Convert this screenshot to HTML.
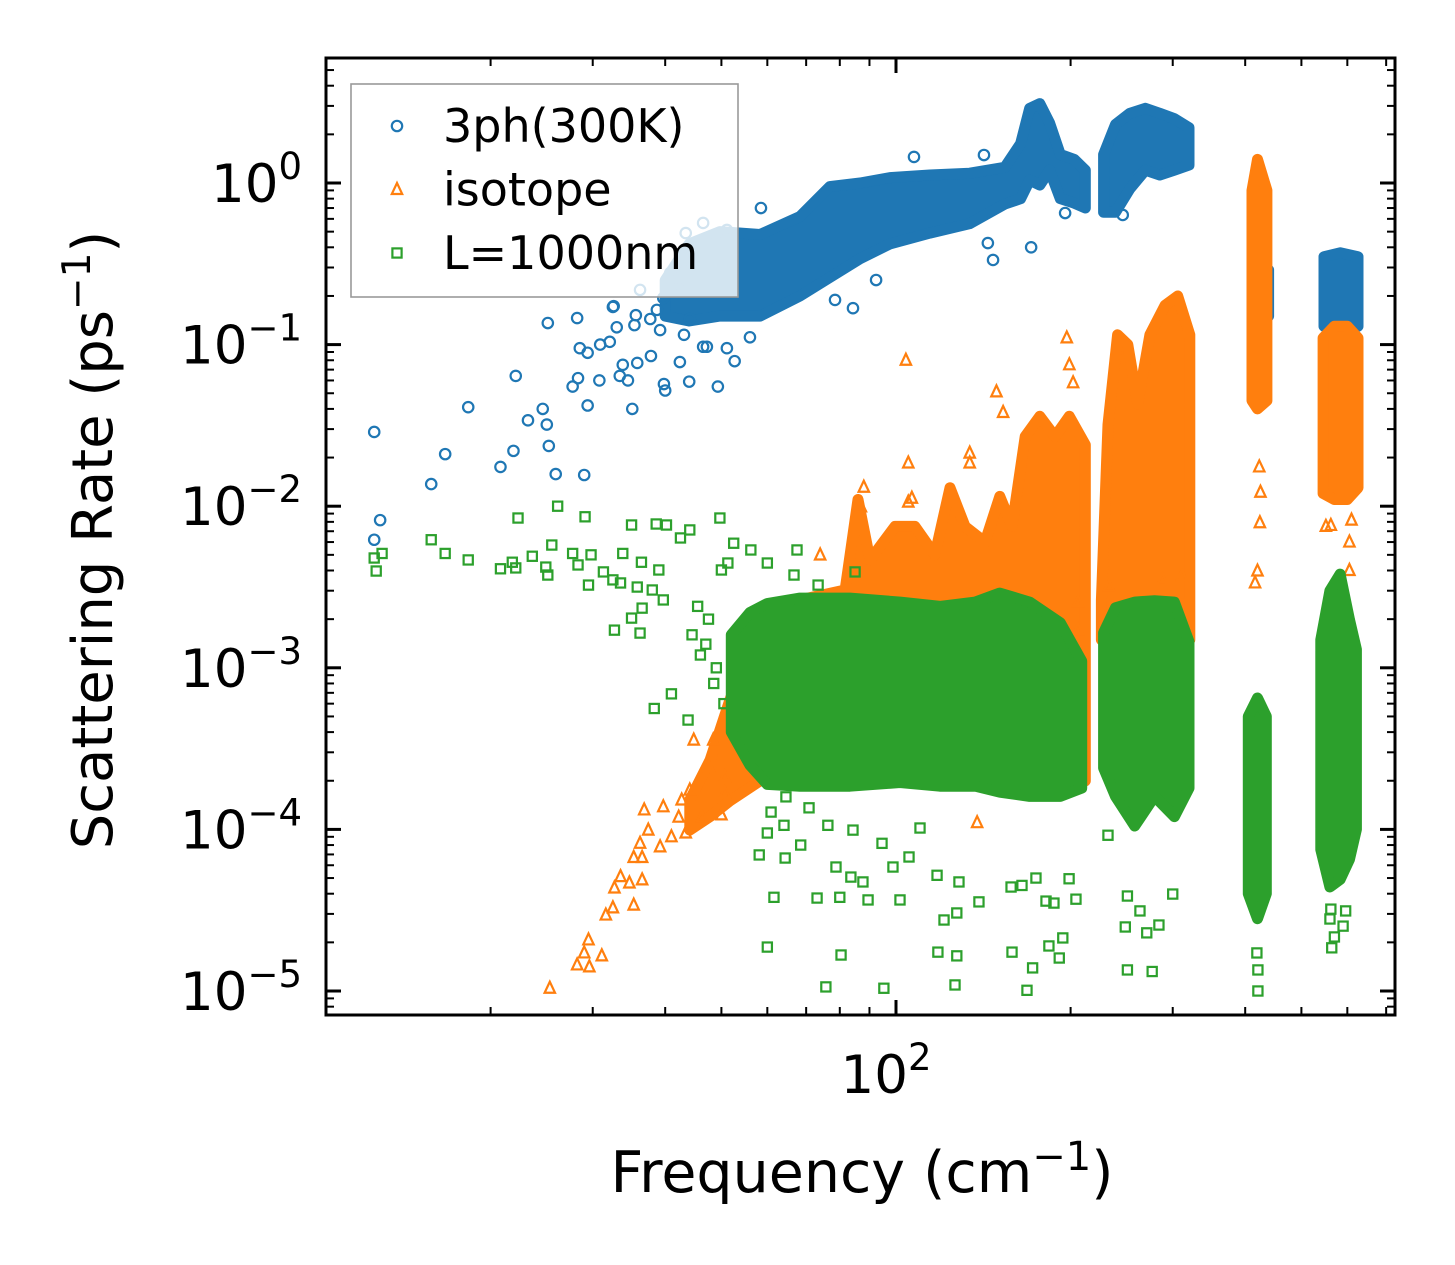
<!DOCTYPE html>
<html><head><meta charset="utf-8"><title>Scattering Rate</title>
<style>html,body{margin:0;padding:0;background:#fff}svg{display:block}text{font-family:"DejaVu Sans","Liberation Sans",sans-serif}</style>
</head><body>
<svg id="chart" width="1455" height="1265" viewBox="0 0 1455 1265" xmlns="http://www.w3.org/2000/svg">
<rect x="0" y="0" width="1455" height="1265" fill="#fff"/>
<g id="bands"></g>
<g id="axes"></g>
<g id="legend"></g>
<text x="862" y="1192" font-size="57" text-anchor="middle">Frequency (cm<tspan dy="-22" font-size="40">−1</tspan><tspan dy="22">)</tspan></text>
<text transform="translate(112,540) rotate(-90)" font-size="56" text-anchor="middle">Scattering Rate (ps<tspan dy="-22" font-size="39">−1</tspan><tspan dy="22">)</tspan></text>
</svg>
<script>
// ---- data: series scatter points [frequency cm^-1, rate ps^-1] ----
const phFreq = [12.6,12.9,12.6,15.8,16.7,18.3,20.8,21.9,22.1,23.2,24.6,25.2,25.9,25.0,29.0,27.7,28.3,28.5,29.4,30.8,30.9,32.1,32.6,33.4,33.8,34.5,35.8,37.8,39.8,35.1,37.7,39.2,35.4,33.0,43.1,44.1,46.5,49.3,52.7,47.2,51.1,56.0,147,171,144,84.3,78.5,92.4,107.4,141.8,58.5,195.7,246,46.5,51.1,43.4,49.0,40.8,36.2,39.7,44.1,42.4,32.5,28.2,25.1,40.0,29.4,42.4,44.0,35.6,38.7];
const phRate = [2.88e-2,8.2e-3,6.2e-3,1.37e-2,2.1e-2,4.1e-2,1.75e-2,2.2e-2,6.4e-2,3.4e-2,4.0e-2,2.36e-2,1.58e-2,3.2e-2,1.56e-2,5.5e-2,6.2e-2,9.5e-2,8.9e-2,6.0e-2,0.100,0.104,0.173,6.4e-2,7.5e-2,6.0e-2,7.7e-2,8.5e-2,5.7e-2,4.0e-2,0.144,0.123,0.132,0.128,0.115,0.144,9.7e-2,5.5e-2,7.9e-2,9.7e-2,9.5e-2,0.111,0.334,0.40,0.425,0.168,0.189,0.251,1.45,1.49,0.70,0.652,0.634,0.566,0.512,0.49,0.43,0.277,0.218,0.194,0.334,0.227,0.171,0.146,0.136,5.2e-2,4.2e-2,7.8e-2,5.9e-2,0.152,0.164];
const isoFreq = [25.3,29.6,28.2,31.1,29.5,29.0,31.6,32.5,35.3,33.5,34.7,36.5,32.7,35.3,36.5,36.2,39.2,36.8,39.7,37.4,41.0,42.2,43.4,42.7,44.1,46.3,50.0,44.8,47.6,50.7,50.7,48.4,52.1,104,197,149,153,199,202,105,134,134,88,106.5,423,425,562,610,424,420,416,551,605,605,311,288,233,233,206,206,138,315,74,87,105];
const isoRate = [1.04e-5,1.41e-5,1.45e-5,1.65e-5,2.07e-5,1.72e-5,2.95e-5,3.27e-5,3.4e-5,5.1e-5,4.66e-5,4.87e-5,4.34e-5,6.7e-5,6.7e-5,8.2e-5,7.8e-5,1.32e-4,1.38e-4,9.9e-5,9.0e-5,1.19e-4,9.5e-5,1.52e-4,1.75e-4,1.19e-4,1.23e-4,3.57e-4,2.43e-4,2.11e-4,1.68e-4,3.57e-4,4.55e-4,8.0e-2,0.11,5.1e-2,3.8e-2,7.5e-2,5.8e-2,1.85e-2,2.13e-2,1.85e-2,1.31e-2,1.12e-2,1.75e-2,1.22e-2,7.6e-3,8.2e-3,7.9e-3,3.97e-3,3.35e-3,7.5e-3,6.0e-3,4.0e-3,3.7e-3,3.5e-3,2.0e-3,3.2e-3,1.71e-3,2.55e-3,1.1e-4,3.4e-4,4.99e-3,9.9e-3,1.06e-2];
const bdFreq = [12.7,12.6,13.0,15.8,16.7,18.3,22.3,26.1,29.1,20.8,22.1,21.8,23.6,24.9,25.1,25.5,27.7,28.3,29.8,29.5,31.3,32.5,33.5,35.0,38.6,40.2,42.5,44.1,49.7,33.8,36.4,39.0,35.8,38.0,39.7,35.0,32.7,36.5,36.2,38.3,41.0,43.8,52.5,56.2,60.0,67.5,66.7,73.4,85.0,50.0,51.3,
 60.0,80.4,75.7,95.3,61.6,73.1,80.0,89.5,101.6,58.1,64.4,68.5,78.8,83.6,87.7,98.8,105.3,60.0,64.1,70.8,76.3,84.3,94.6,110.0,60.9,64.6,118.1,127.3,126.4,158.5,168.2,172,183.5,191.2,193.9,121,127.3,139,181.4,187.2,204.3,117.7,128.4,157.9,164.9,174.3,198.8,250.6,276.5,248.5,270.6,284,300,250.6,263.4,420.7,420.7,419,564,570,590,560,562,596,232,
 44.5,46.0,47.5,48.5,45.5,47.0,49.0,50.5];
const bdRate = [3.97e-3,4.78e-3,5.1e-3,6.2e-3,5.1e-3,4.65e-3,8.45e-3,1.0e-2,8.6e-3,4.1e-3,4.15e-3,4.5e-3,4.9e-3,4.2e-3,3.75e-3,5.75e-3,5.1e-3,4.33e-3,5.0e-3,3.25e-3,3.92e-3,3.5e-3,3.35e-3,7.65e-3,7.76e-3,7.65e-3,6.36e-3,7.13e-3,8.45e-3,5.1e-3,4.5e-3,4.03e-3,3.16e-3,3.03e-3,2.63e-3,2.03e-3,1.71e-3,2.34e-3,1.64e-3,5.6e-4,6.9e-4,4.75e-4,5.9e-3,5.36e-3,4.45e-3,5.36e-3,3.75e-3,3.25e-3,3.92e-3,4.03e-3,4.45e-3,
 1.87e-5,1.67e-5,1.06e-5,1.04e-5,3.8e-5,3.76e-5,3.8e-5,3.66e-5,3.66e-5,6.95e-5,6.65e-5,8.0e-5,5.85e-5,5.07e-5,4.73e-5,5.85e-5,6.75e-5,9.5e-5,1.06e-4,1.36e-4,1.06e-4,9.9e-5,8.2e-5,1.02e-4,1.28e-4,1.59e-4,1.74e-5,1.65e-5,1.09e-5,1.74e-5,1.01e-5,1.39e-5,1.9e-5,1.6e-5,2.13e-5,2.75e-5,3.04e-5,3.56e-5,3.6e-5,3.5e-5,3.7e-5,5.2e-5,4.73e-5,4.4e-5,4.5e-5,5.0e-5,4.95e-5,1.35e-5,1.32e-5,2.49e-5,2.29e-5,2.56e-5,3.98e-5,3.87e-5,3.13e-5,1.0e-5,1.35e-5,1.72e-5,1.85e-5,2.16e-5,2.52e-5,2.79e-5,3.21e-5,3.13e-5,9.2e-5,
 1.6e-3,1.2e-3,2.0e-3,8.0e-4,2.4e-3,1.4e-3,1.0e-3,6.0e-4];
// ---- dense regions (overlapping markers): frequency stations with upper/lower rate envelope ----
const phBandF = [[40.0,44.0,49.7,58.3,68.3,76.9,86.7,97.6,114.4,134,154,164,170,177,184,192,203,212],[228,239,253,269,285,302,320],[411,425,439],[547,583,626]];
const phBandHi = [[0.25,0.42,0.50,0.48,0.62,0.95,1.0,1.08,1.12,1.15,1.25,1.75,2.9,3.1,2.35,1.5,1.4,1.2],[1.5,2.3,2.7,2.9,2.7,2.5,2.2],[0.29,0.29,0.29],[0.35,0.37,0.35]];
const phBandLo = [[0.15,0.14,0.15,0.15,0.20,0.26,0.34,0.42,0.49,0.56,0.74,0.80,1.04,0.97,1.2,0.80,0.75,0.70],[0.66,0.66,0.92,1.2,1.12,1.2,1.29],[0.15,0.15,0.15],[0.13,0.13,0.13]];
const isoBandF = [[44.1,47.8,51.7,58.3,68.3,81.7,86.0,90.2,99.6,107.8,116.7,123.9,131.5,142.4,151,158.5,167,177,188,199,212],[226,232,241,251,261,274,291,306,321],[411,420,436],[545,570,600,626]];
const isoBandHi = [[1.52e-4,2.69e-4,6.3e-4,1.98e-3,2.63e-3,3.03e-3,1.1e-2,4.65e-3,7.5e-3,7.5e-3,5.0e-3,1.3e-2,7.5e-3,6.0e-3,1.15e-2,7.5e-3,2.7e-2,3.6e-2,2.7e-2,3.6e-2,2.4e-2],[2.63e-3,3.2e-2,0.115,0.10,4.3e-2,0.115,0.175,0.20,0.115],[0.9,1.4,0.9],[0.11,0.13,0.13,0.11]];
const isoBandLo = [[9.9e-5,1.2e-4,1.5e-4,2.0e-4,2.0e-4,2.0e-4,2.0e-4,2.0e-4,2.0e-4,2.0e-4,2.0e-4,2.0e-4,2.0e-4,2.0e-4,2.0e-4,2.0e-4,2.0e-4,2.0e-4,2.0e-4,2.0e-4,2.0e-4],[1.49e-3,1.49e-3,1.49e-3,1.49e-3,1.49e-3,1.49e-3,1.49e-3,1.49e-3,1.49e-3],[0.045,0.04,0.045],[0.012,0.011,0.011,0.013]];
const bdBandF = [[52,56,60,68.3,83.3,101.6,119,137,151,170,192,209],[228,239,258,279,302,320],[405,420,435],[540,560,583,605,622]];
const bdBandHi = [[1.6e-3,2.2e-3,2.5e-3,2.7e-3,2.7e-3,2.55e-3,2.4e-3,2.55e-3,2.9e-3,2.55e-3,1.9e-3,1.1e-3],[1.65e-3,2.35e-3,2.55e-3,2.6e-3,2.55e-3,1.45e-3],[5e-4,6.5e-4,5e-4],[1.49e-3,3.0e-3,3.8e-3,2.0e-3,1.3e-3]];
const bdBandLo = [[4.0e-4,2.5e-4,1.9e-4,1.85e-4,1.85e-4,1.95e-4,1.85e-4,1.85e-4,1.7e-4,1.6e-4,1.6e-4,1.8e-4],[2.4e-4,1.6e-4,1.05e-4,1.6e-4,1.2e-4,1.8e-4],[4e-5,2.8e-5,4e-5],[7.5e-5,4.4e-5,4.9e-5,6.5e-5,1.0e-4]];
// ---- axis ticks ----
const yMajor = [1e0,1e-1,1e-2,1e-3,1e-4,1e-5];
const yMajorExp = ["0","−1","−2","−3","−4","−5"];
const xMajor = [100];
const xMajorExp = ["2"];

const NS = "http://www.w3.org/2000/svg";
const L = 326, R = 1395, T = 58, B = 1015;
function X(f){ return 896 + 580*(Math.log10(f) - 2); }
function Y(r){ return 183 - 161.6*Math.log10(r); }
function mk(tag, attrs, parent){ const e = document.createElementNS(NS, tag); for (const k in attrs) e.setAttribute(k, attrs[k]); parent.appendChild(e); return e; }

const C = {ph:"#1f77b4", iso:"#ff7f0e", bd:"#2ca02c"};
const bandsG = document.getElementById('bands');

function marker(kind, cx, cy, parent, color){
  let e;
  if (kind === 'ph') e = mk('circle', {cx:cx, cy:cy, r:5.2, fill:'none', stroke:color, 'stroke-width':2.2}, parent);
  else if (kind === 'iso') e = mk('path', {d:`M${cx},${cy-6.5} L${cx+5.2},${cy+4.5} L${cx-5.2},${cy+4.5} Z`, fill:'none', stroke:color, 'stroke-width':2.2}, parent);
  else e = mk('rect', {x:cx-4.6, y:cy-4.6, width:9.2, height:9.2, fill:'none', stroke:color, 'stroke-width':2.2}, parent);
  return e;
}

function drawSeries(kind, bF, bHi, bLo, fs, rs){
  const color = C[kind];
  const g = mk('g', {}, bandsG);
  
  
  g.setAttribute('clip-path', 'url(#plotclip)');
  for (let i = 0; i < bF.length; i++){
    const pts = [];
    for (let j = 0; j < bF[i].length; j++) pts.push(X(bF[i][j]).toFixed(1) + ',' + Y(bHi[i][j]).toFixed(1));
    for (let j = bF[i].length - 1; j >= 0; j--) pts.push(X(bF[i][j]).toFixed(1) + ',' + Y(bLo[i][j]).toFixed(1));
    const p = mk('polygon', {points: pts.join(' '), fill: color, stroke: color, 'stroke-width': 11, 'stroke-linejoin': 'round'}, g);
    
    
  }
  for (let i = 0; i < fs.length; i++){
    const m = marker(kind, X(fs[i]), Y(rs[i]), g, color);
    
    
  }
}
const defs = mk('defs', {}, document.getElementById('chart'));
const cp = mk('clipPath', {id:'plotclip'}, defs);
mk('rect', {x:L, y:T, width:R-L, height:B-T}, cp);

drawSeries('ph', phBandF, phBandHi, phBandLo, phFreq, phRate);
drawSeries('iso', isoBandF, isoBandHi, isoBandLo, isoFreq, isoRate);
drawSeries('bd', bdBandF, bdBandHi, bdBandLo, bdFreq, bdRate);

// ---- axes ----
const ax = document.getElementById('axes');
const frame = mk('rect', {x:L, y:T, width:R-L, height:B-T, fill:'none', stroke:'#000', 'stroke-width':3}, ax);


for (let d = -6; d <= 1; d++){
  for (let m = 1; m <= 9; m++){
    const v = m*Math.pow(10, d);
    const y = Y(v);
    if (y < T + 1 || y > B - 1) continue;
    const len = m === 1 ? 15 : 8;
    const w = m === 1 ? 3 : 2;
    const t1 = mk('line', {x1:L, x2:L+len, y1:y, y2:y, stroke:'#000', 'stroke-width':w}, ax);
    
    
    const t2 = mk('line', {x1:R, x2:R-len, y1:y, y2:y, stroke:'#000', 'stroke-width':w}, ax);
    
    
  }
}
yMajor.forEach((v, i) => {
  const t = mk('text', {x:302, y:Y(v)+19, 'font-size':53, 'text-anchor':'end'}, ax);
  
  
  t.innerHTML = '10<tspan dy="-23" font-size="37">' + yMajorExp[i] + '</tspan>';
});
for (let d = 1; d <= 2; d++){
  for (let m = 1; m <= 9; m++){
    const v = m*Math.pow(10, d);
    const x = X(v);
    if (x < L + 1 || x > R - 1) continue;
    const major = (m === 1);
    const len = major ? 15 : 8;
    const w = major ? 3 : 2;
    const t1 = mk('line', {x1:x, x2:x, y1:B, y2:B-len, stroke:'#000', 'stroke-width':w}, ax);
    
    
    const t2 = mk('line', {x1:x, x2:x, y1:T, y2:T+len, stroke:'#000', 'stroke-width':w}, ax);
    
    
  }
}
xMajor.forEach((v, i) => {
  const t = mk('text', {x:X(v)-10, y:1093, 'font-size':53, 'text-anchor':'middle'}, ax);
  
  
  t.innerHTML = '10<tspan dy="-23" font-size="37">' + xMajorExp[i] + '</tspan>';
});

// ---- legend ----
const lg = document.getElementById('legend');
const lbox = mk('rect', {x:351, y:84, width:387, height:213, fill:'rgba(255,255,255,0.8)', stroke:'#999', 'stroke-width':1.6}, lg);


const legendLabels = ['3ph(300K)', 'isotope', 'L=1000nm'];
const legendKinds = ['ph', 'iso', 'bd'];
legendKinds.forEach((k, i) => {
  const cy = 126 + i*63.5;
  const g = mk('g', {}, lg);
  
  
  marker(k, 397, cy, g, C[k]);
  const t = mk('text', {x:443, y:cy+16, 'font-size':46}, g);
  t.textContent = legendLabels[i];
});
</script>
</body></html>
